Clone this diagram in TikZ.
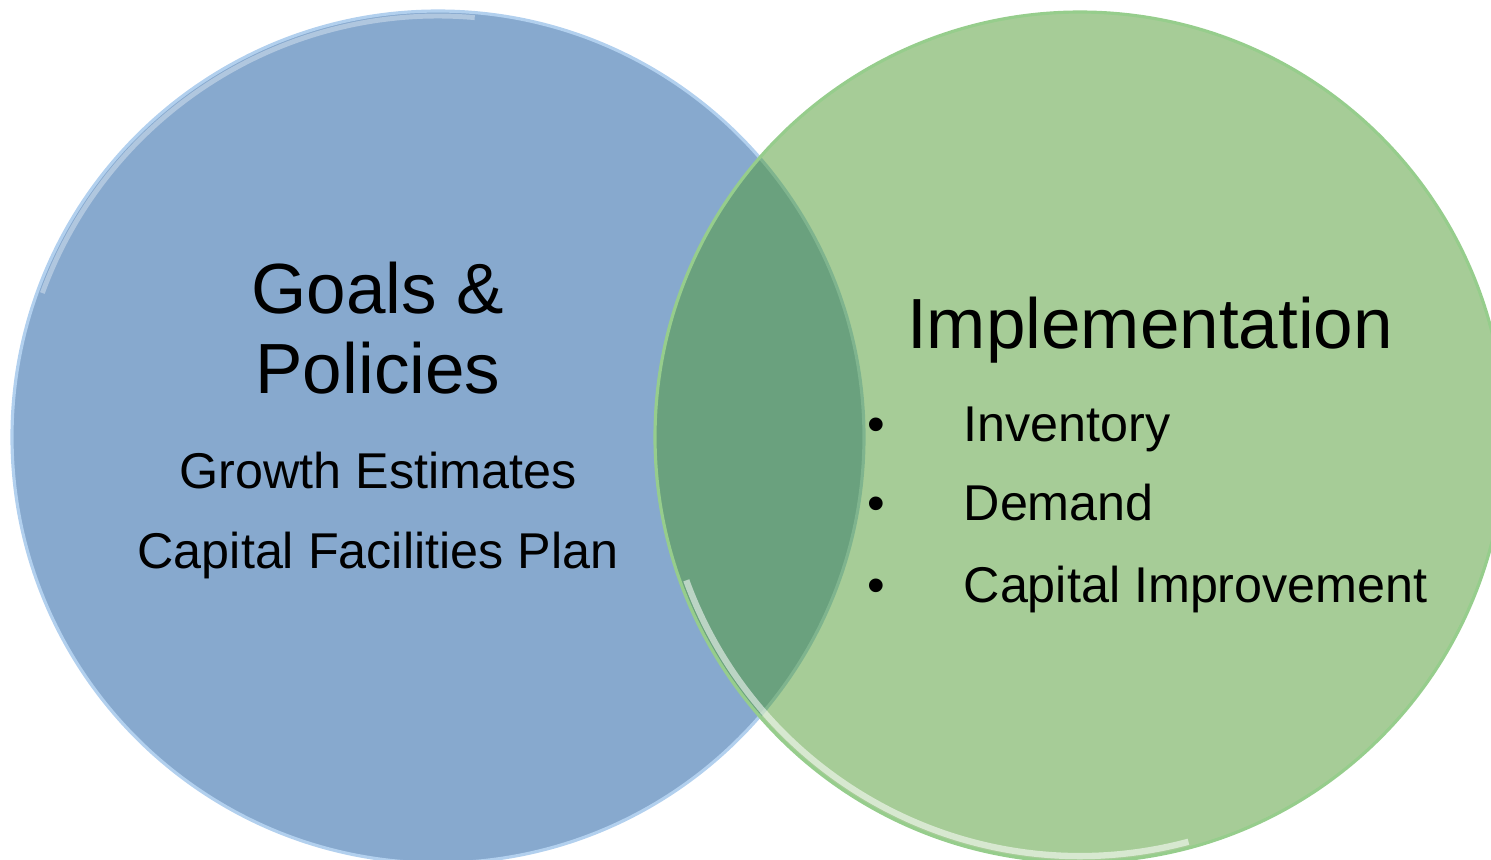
\documentclass[tikz,border=0pt]{standalone}
\usepackage{fontspec}
\setmainfont{Liberation Sans}
\usepackage{tikz}
\definecolor{goalblue}{RGB}{135,169,206}
\definecolor{goalrim}{RGB}{178,208,238}
\definecolor{implgreen}{RGB}{78,154,47}
\definecolor{implrim}{RGB}{150,205,140}

\begin{document}
\begin{tikzpicture}[x=0.01cm,y=-0.01cm,
  bigtext/.style={anchor=base,font=\fontsize{20.2}{24}\selectfont},
  smalltext/.style={anchor=base,font=\fontsize{14.3}{17}\selectfont},
  itemtext/.style={anchor=base west,inner sep=0pt,font=\fontsize{14.3}{17}\selectfont}]
\useasboundingbox (0,0) rectangle (1491,859);
% the two circles
\fill[goalblue] (438,437) circle (426);
\draw[goalrim,line width=0.9pt] (438,437) circle (426);
\draw[white,opacity=0.35,line width=1.4pt] (438,437) ++(200:421) arc (200:275:421);
\fill[implgreen,opacity=0.5] (1080,437) circle (425);
\draw[implrim,line width=0.9pt] (1080,437) circle (425);
\draw[white,opacity=0.55,line width=1.8pt] (1080,437) ++(75:419) arc (75:160:419);
% left side
\node[bigtext] (goals) at (378,313) {Goals \&};
\node[bigtext] (policies) at (378,393) {Policies};
\node[smalltext] (growth) at (378,488) {Growth Estimates};
\node[smalltext] (cfp) at (378,568) {Capital Facilities Plan};
% right side
\node[bigtext] (impl) at (1150,348) {Implementation};
\node[smalltext] (b1) at (876,441) {\textbullet};
\node[itemtext] (inv) at (963,441) {Inventory};
\node[smalltext] (b2) at (876,520) {\textbullet};
\node[itemtext] (dem) at (963,520) {Demand};
\node[smalltext] (b3) at (876,602) {\textbullet};
\node[itemtext] (cap) at (963,602) {Capital Improvement};
\end{tikzpicture}
\end{document}
